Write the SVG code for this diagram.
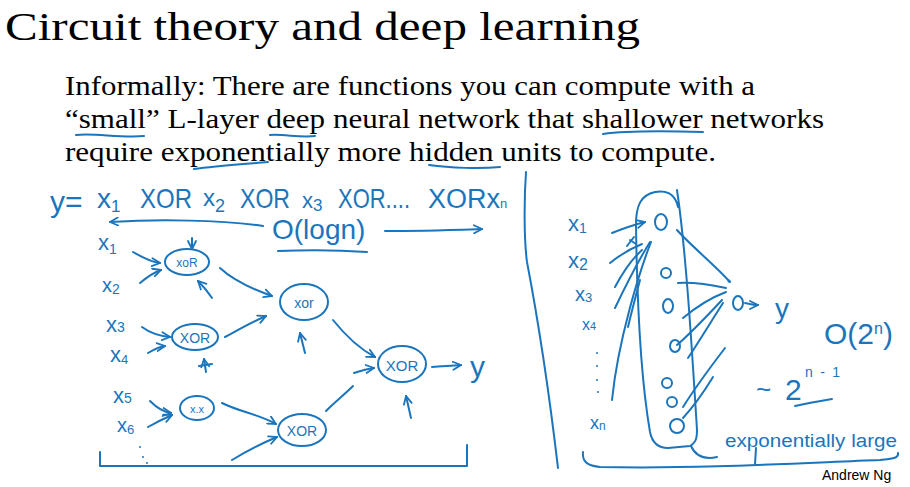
<svg xmlns="http://www.w3.org/2000/svg" width="910" height="487" viewBox="0 0 910 487">
<defs>
<style>
.ser{font-family:"Liberation Serif","DejaVu Serif",serif;fill:#000}
.hw{font-family:"Liberation Sans","DejaVu Sans",sans-serif;fill:#1b75bc}
.s{fill:none;stroke:#1b75bc;stroke-width:2;stroke-linecap:round;stroke-linejoin:round}
.a{marker-end:url(#ah)}
</style>
<marker id="ah" viewBox="0 0 10 10" refX="9" refY="5" markerWidth="10" markerHeight="10" markerUnits="userSpaceOnUse" orient="auto">
<path d="M1,1 L9,5 L1,9" fill="none" stroke="#1b75bc" stroke-width="1.8" stroke-linecap="round"/>
</marker>
</defs>
<rect width="910" height="487" fill="#fff"/>

<g id="title">
<text class="ser" x="5" y="40" font-size="40" textLength="635" lengthAdjust="spacingAndGlyphs">Circuit theory and deep learning</text>
</g>
<g id="body">
<text class="ser" x="65" y="95" font-size="27" textLength="690" lengthAdjust="spacingAndGlyphs">Informally: There are functions you can compute with a</text>
<text class="ser" x="65" y="128" font-size="27" textLength="759" lengthAdjust="spacingAndGlyphs">“small” L-layer deep neural network that shallower networks</text>
<text class="ser" x="65" y="161" font-size="27" textLength="651" lengthAdjust="spacingAndGlyphs">require exponentially more hidden units to compute.</text>
<path class="s" d="M76,135 C95,133 120,138 144,136"/>
<path class="s" d="M270,135 C285,134 300,138 315,136"/>
<path class="s" d="M603,134 C630,130 670,131 703,132"/>
<path class="s" d="M194,169 C215,166 245,164 268,162"/>
<path class="s" d="M429,165 C450,168 480,169 500,167"/>
</g>
<g id="footer">
<text x="822" y="480" font-size="14" font-family="Liberation Sans, Open Sans, sans-serif" fill="#000">Andrew Ng</text>
</g>

<g id="equation">
<text class="hw" x="50" y="212" font-size="30">y=</text>
<text class="hw" x="97" y="208" font-size="28">x<tspan font-size="17" dy="4">1</tspan></text>
<text class="hw" x="140" y="208" font-size="28" textLength="52" lengthAdjust="spacingAndGlyphs">XOR</text>
<text class="hw" x="203" y="206" font-size="24">x<tspan font-size="18" dy="6">2</tspan></text>
<text class="hw" x="240" y="208" font-size="28" textLength="50" lengthAdjust="spacingAndGlyphs">XOR</text>
<text class="hw" x="302" y="208" font-size="22">x<tspan font-size="17" dy="3">3</tspan></text>
<text class="hw" x="338" y="208" font-size="28" textLength="72" lengthAdjust="spacingAndGlyphs">XOR....</text>
<text class="hw" x="428" y="208" font-size="27">XORx<tspan font-size="13">n</tspan></text>
<text class="hw" x="272" y="239" font-size="28">O(logn)</text>
<path class="s" d="M278,251 C300,250 340,250 367,252"/>
</g>

<g id="left-inputs">
<text class="hw" x="98" y="250" font-size="22">x<tspan font-size="14" dy="4">1</tspan></text>
<text class="hw" x="102" y="292" font-size="20">x<tspan font-size="14" dy="2">2</tspan></text>
<text class="hw" x="106" y="332" font-size="22">x<tspan font-size="14" dy="0">3</tspan></text>
<text class="hw" x="110" y="362" font-size="22">x<tspan font-size="13" dy="2">4</tspan></text>
<text class="hw" x="113" y="403" font-size="22">x<tspan font-size="14" dy="0">5</tspan></text>
<text class="hw" x="117" y="432" font-size="20">x<tspan font-size="13" dy="2">6</tspan></text>
<circle cx="140" cy="447" r="1" fill="#1b75bc"/>
<circle cx="143" cy="457" r="1" fill="#1b75bc"/>
<circle cx="147" cy="463" r="1" fill="#1b75bc"/>
</g>

<g id="n1"><ellipse class="s" cx="187" cy="262" rx="22" ry="13"/><text class="hw" x="187" y="267" font-size="12" text-anchor="middle">xoR</text></g>
<g id="n2"><ellipse class="s" cx="195" cy="337" rx="23" ry="13"/><text class="hw" x="195" y="343" font-size="14" text-anchor="middle">XOR</text></g>
<g id="n3"><ellipse class="s" cx="197" cy="408" rx="17" ry="12"/><text class="hw" x="197" y="413" font-size="11" text-anchor="middle">x.x</text></g>
<g id="m1"><ellipse class="s" cx="304" cy="302" rx="24" ry="18"/><text class="hw" x="304" y="308" font-size="14" text-anchor="middle">xor</text></g>
<g id="m2"><ellipse class="s" cx="302" cy="430" rx="24" ry="16"/><text class="hw" x="302" y="436" font-size="14" text-anchor="middle">XOR</text></g>
<g id="r"><ellipse class="s" cx="402" cy="364" rx="24" ry="18"/><text class="hw" x="402" y="371" font-size="15" text-anchor="middle">XOR</text></g>
<g id="y-left"><text class="hw" x="470" y="377" font-size="30">y</text></g>

<g id="connectors">
<path class="s a" d="M263,226 C220,220 160,219 110,222"/>
<path class="s a" d="M385,231 C420,231 450,230 482,229"/>
<path class="s a" d="M133,252 C140,256 150,262 160,263"/>
<path class="s a" d="M140,283 C146,278 152,273 161,270"/>
<path class="s a" d="M192,238 L192,249"/>
<path class="s a" d="M212,298 C208,292 203,286 198,281"/>
<path class="s a" d="M220,268 C235,282 255,290 272,296"/>
<path class="s a" d="M142,327 C150,333 160,336 170,337"/>
<path class="s a" d="M148,353 C153,350 158,347 165,346"/>
<path class="s a" d="M206,372 L204,359"/>
<path class="s" d="M199,366 L212,364"/>
<path class="s a" d="M225,337 C238,330 250,323 266,316"/>
<path class="s a" d="M305,353 L300,333"/>
<path class="s a" d="M150,401 C157,408 163,412 171,413"/>
<path class="s a" d="M148,427 C155,423 163,419 172,415"/>
<path class="s a" d="M222,403 C240,412 258,414 276,424"/>
<path class="s a" d="M232,460 C245,452 260,444 277,437"/>
<path class="s a" d="M333,320 C345,335 358,348 375,357"/>
<path class="s" d="M326,411 C335,402 345,394 353,386"/>
<path class="s a" d="M354,373 C360,371 366,369 374,368"/>
<path class="s a" d="M411,418 L406,396"/>
<path class="s a" d="M432,367 C442,366 450,366 461,365"/>
<path class="s" d="M100,452 L100,466 L467,466 L467,445"/>
<path class="s" d="M526,172 C524,200 524,240 527,262 C540,330 550,400 558,468"/>

<path class="s a" d="M612,233 C622,229 633,225 645,222"/>
<path class="s" d="M627,246 L634,237 M630,240 L636,244"/>
<path class="s" d="M610,263 C620,255 632,248 642,244"/>
<path class="s" d="M615,287 C623,272 633,258 642,250"/>
<path class="s" d="M615,308 C626,285 640,258 650,242"/>
<path class="s" d="M628,327 C632,310 636,295 640,280"/>
<path class="s" d="M612,400 C618,340 640,270 651,242"/>

<path class="s" d="M677,230 C690,245 715,265 730,282"/>
<circle cx="729" cy="281" r="1.5" fill="#1b75bc"/>
<path class="s" d="M678,283 C695,282 712,285 726,288"/>
<path class="s" d="M683,318 C695,308 710,298 726,292"/>
<path class="s" d="M677,345 C692,332 708,315 722,300"/>
<path class="s" d="M688,358 C700,340 712,320 723,303"/>
<path class="s" d="M683,407 C695,388 712,365 725,348"/>
<path class="s" d="M683,418 C695,405 705,390 713,377"/>
<path class="s a" d="M745,303 C750,304 754,305 758,305"/>
<path class="s" d="M583,452 C582,462 588,466 600,467 C700,469 800,463 880,460 C892,459 899,458 898,453"/>
<path class="s" d="M756,448 L755,464"/>
</g>

<g id="hidden-layer">
<path class="s" d="M678,207 C675,193 665,190 655,192 C641,195 636,205 636,225 C637,300 641,380 650,432 C652,442 658,448 668,448 L690,446 C697,442 697,436 697,430 C692,350 686,250 677,190"/>
<path class="s" d="M691,446 C695,455 703,460 717,457"/>
<ellipse class="s" cx="661" cy="222" rx="6" ry="8"/>
<ellipse class="s" cx="666" cy="273" rx="5" ry="5"/>
<ellipse class="s" cx="668" cy="306" rx="5" ry="7"/>
<ellipse class="s" cx="675" cy="346" rx="5" ry="6"/>
<ellipse class="s" cx="667" cy="383" rx="5" ry="5"/>
<ellipse class="s" cx="672" cy="402" rx="5" ry="5"/>
<ellipse class="s" cx="677" cy="426" rx="7" ry="7"/>
</g>
<g id="output"><ellipse class="s" cx="738" cy="303" rx="5" ry="7"/></g>
<g id="right-labels">
<text class="hw" x="568" y="231" font-size="22">x<tspan font-size="14" dy="2">1</tspan></text>
<text class="hw" x="568" y="268" font-size="22">x<tspan font-size="16" dy="2">2</tspan></text>
<text class="hw" x="575" y="301" font-size="20">x<tspan font-size="13" dy="1">3</tspan></text>
<text class="hw" x="582" y="330" font-size="16">x<tspan font-size="11">4</tspan></text>
<circle cx="597" cy="353" r="1" fill="#1b75bc"/>
<circle cx="597" cy="366" r="1" fill="#1b75bc"/>
<circle cx="597" cy="380" r="1" fill="#1b75bc"/>
<circle cx="598" cy="392" r="1" fill="#1b75bc"/>
<text class="hw" x="590" y="429" font-size="18">x<tspan font-size="12" dy="1">n</tspan></text>
<text class="hw" x="775" y="318" font-size="28">y</text>
<text class="hw" x="824" y="344" font-size="30">O(2<tspan font-size="16" dy="-10">n</tspan><tspan dy="10">)</tspan></text>
<text class="hw" x="756" y="398" font-size="26">~</text>
<text class="hw" x="785" y="400" font-size="30">2</text>
<text class="hw" x="805" y="377" font-size="14" textLength="35" lengthAdjust="spacing">n-1</text>
<path class="s" d="M795,406 C808,403 820,401 832,399"/>
<text class="hw" x="725" y="447" font-size="18" textLength="172" lengthAdjust="spacingAndGlyphs">exponentially large</text>
</g>
</svg>
